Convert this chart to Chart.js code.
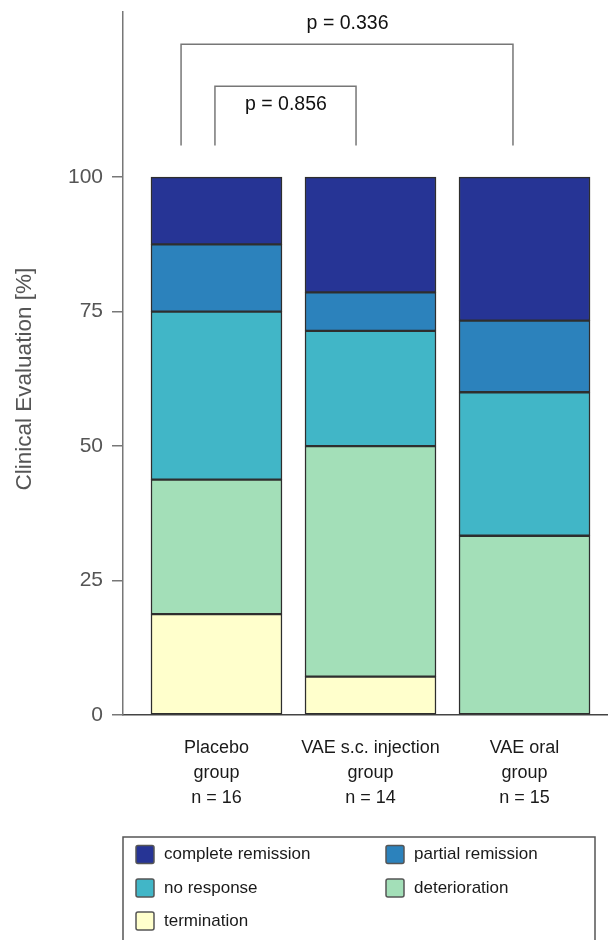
<!DOCTYPE html>
<html>
<head>
<meta charset="utf-8">
<script src="https://cdn.jsdelivr.net/npm/chart.js@4"></script>
<style>
  body { margin: 0; background: #fff; }
  #wrap { position: relative; width: 608px; height: 940px; }
</style>
</head>
<body>
<div id="wrap"><canvas id="clinical-eval-chart"></canvas></div>
<script>
// setup data (percent of patients per group)
const groupLabels = [
    ["Placebo", "group", "n = 16"],
    ["VAE s.c. injection", "group", "n = 14"],
    ["VAE oral", "group", "n = 15"],
];
const termination = [18.75, 7.14, 0];
const deterioration = [25, 42.86, 33.33];
const noResponse = [31.25, 21.43, 26.67];
const partialRemission = [12.5, 7.14, 13.33];
const completeRemission = [12.5, 21.43, 26.67];
const yTickValues = [0, 25, 50, 75, 100];

// p-value brackets (x in group units, y in %)
const pTests = [
    { label: "p = 0.336", from: -0.23, to: 1.925, top: 124.7, textX: 0.851, textY: 128.6 },
    { label: "p = 0.856", from: -0.01, to: 0.906, top: 116.9, textX: 0.451, textY: 113.4 },
];
const bracketFoot = 105.9;

const toPoints = (arr) => arr.map((v, i) => ({ x: i, y: v }));

const seriesDefs = [
    { label: "termination", values: termination, color: "#ffffcc" },
    { label: "deterioration", values: deterioration, color: "#a3dfb8" },
    { label: "no response", values: noResponse, color: "#41b6c7" },
    { label: "partial remission", values: partialRemission, color: "#2c82bc" },
    { label: "complete remission", values: completeRemission, color: "#263495" },
];

const dataClinical = {
    datasets: seriesDefs.map((s) => ({
        label: s.label,
        data: toPoints(s.values),
        backgroundColor: s.color,
        borderColor: "#2e2e2e",
        borderWidth: 1.5,
        borderSkipped: false,
        barThickness: 131,
    })),
};

// brackets + custom legend
const extrasPlugin = {
    id: "extras",
    afterDraw(chart) {
        const { ctx, scales: { x, y } } = chart;
        ctx.save();
        ctx.strokeStyle = "#777";
        ctx.lineWidth = 1.5;
        ctx.fillStyle = "#111";
        ctx.font = "19.5px 'Liberation Sans', Arial, sans-serif";
        ctx.textAlign = "center";
        ctx.textBaseline = "middle";
        pTests.forEach((t) => {
            const x1 = x.getPixelForValue(t.from);
            const x2 = x.getPixelForValue(t.to);
            const yt = y.getPixelForValue(t.top);
            const yb = y.getPixelForValue(bracketFoot);
            ctx.beginPath();
            ctx.moveTo(x1, yb);
            ctx.lineTo(x1, yt);
            ctx.lineTo(x2, yt);
            ctx.lineTo(x2, yb);
            ctx.stroke();
            ctx.fillText(t.label, x.getPixelForValue(t.textX), y.getPixelForValue(t.textY));
        });

        // legend box
        const bx = 123, by = 837, bw = 472;
        ctx.strokeStyle = "#555";
        ctx.lineWidth = 1.5;
        ctx.beginPath();
        ctx.moveTo(bx, chart.height + 5);
        ctx.lineTo(bx, by);
        ctx.lineTo(bx + bw, by);
        ctx.lineTo(bx + bw, chart.height + 5);
        ctx.stroke();

        const items = chart.data.datasets.slice().reverse();
        const colX = [136, 386];
        const rowY = [854.5, 888, 921];
        ctx.font = "17px 'Liberation Sans', Arial, sans-serif";
        ctx.textAlign = "left";
        items.forEach((ds, i) => {
            const cx = colX[i % 2];
            const cy = rowY[Math.floor(i / 2)];
            ctx.fillStyle = ds.backgroundColor;
            ctx.strokeStyle = "#555";
            ctx.lineWidth = 1.5;
            ctx.beginPath();
            ctx.roundRect(cx, cy - 9, 18, 18, 2);
            ctx.fill();
            ctx.stroke();
            ctx.fillStyle = "#1a1a1a";
            ctx.fillText(ds.label, cx + 28, cy);
        });
        ctx.restore();
    },
};

// config
const configClinical = {
    type: "bar",
    data: dataClinical,
    plugins: [extrasPlugin],
    options: {
        responsive: true,
        maintainAspectRatio: false,
        animation: false,
        layout: { padding: { top: 12, left: 0, right: 0, bottom: 0 } },
        plugins: {
            legend: { display: false },
            tooltip: { enabled: false },
        },
        scales: {
            x: {
                type: "linear",
                stacked: true,
                offset: false,
                min: -0.607,
                max: 2.542,
                afterBuildTicks: (scale) => {
                    scale.ticks = groupLabels.map((_, i) => ({ value: i }));
                },
                afterFit: (scale) => {
                    scale.height = 225;
                    scale.paddingLeft = 0;
                    scale.paddingRight = 0;
                },
                grid: { display: false, drawTicks: false },
                border: { display: true, color: "#444", width: 1.5 },
                ticks: {
                    padding: 20,
                    color: "#1a1a1a",
                    font: { family: "'Liberation Sans', Arial, sans-serif", size: 18, lineHeight: 1.4 },
                    maxRotation: 0,
                    autoSkip: false,
                    callback: (value) => groupLabels[value],
                },
            },
            y: {
                stacked: true,
                min: 0,
                max: 130.7,
                afterBuildTicks: (scale) => {
                    scale.ticks = yTickValues.map((v) => ({ value: v }));
                },
                afterFit: (scale) => {
                    scale.width = 123;
                    scale.paddingTop = 0;
                    scale.paddingBottom = 0;
                },
                grid: {
                    drawOnChartArea: false,
                    drawTicks: true,
                    tickLength: 11,
                    color: "#777",
                    lineWidth: 1.5,
                },
                border: { display: true, color: "#777", width: 1.5 },
                ticks: {
                    padding: 9,
                    color: "#555",
                    font: { family: "'Liberation Sans', Arial, sans-serif", size: 21 },
                },
                title: {
                    display: true,
                    text: "Clinical Evaluation [%]\u00a0\u00a0\u00a0\u00a0\u00a0",
                    color: "#555",
                    padding: { top: 11, bottom: 0 },
                    font: { family: "'Liberation Sans', Arial, sans-serif", size: 22.5, weight: "normal" },
                },
            },
        },
    },
};

// render init block
const ctxClinical = document.getElementById("clinical-eval-chart");
new Chart(ctxClinical, configClinical);
</script>
</body>
</html>
